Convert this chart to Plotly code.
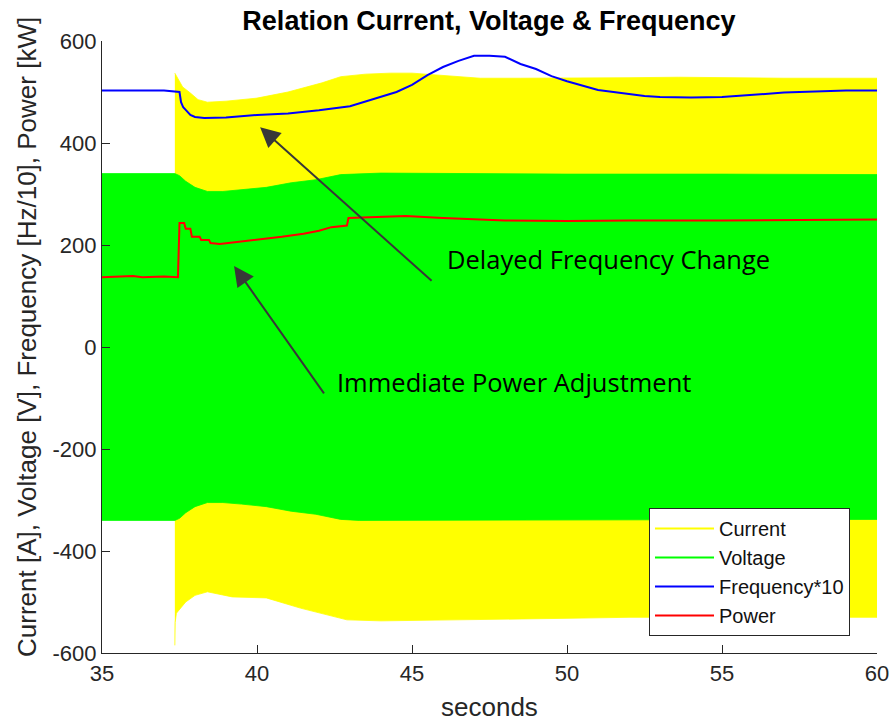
import plotly.graph_objects as go

# ---------------- data ----------------
# Current envelope (switch-on at ~37.35 s)
cur_up_t = [37.35, 37.45, 37.6, 37.85, 38.1, 38.4, 39.0, 40.0, 41.0, 42.1, 42.7, 43.5, 44.3, 45.0, 46.0, 47.2, 48.5, 50.0, 52.0, 53.6, 55.0, 57.0, 60.0]
cur_up_v = [537, 525, 510, 498, 485, 480, 482, 488, 500, 518, 530, 535, 537, 537, 533, 527, 527, 527, 528, 529, 528, 527, 527]
cur_lo_t = [37.35, 37.36, 37.4, 37.7, 38.0, 38.2, 38.4, 39.2, 40.3, 41.4, 42.5, 42.9, 44.0, 47.0, 50.0, 52.0, 55.0, 57.0, 60.0]
cur_lo_v = [-585, -540, -522, -500, -487, -483, -480, -490, -492, -512, -529, -535, -537, -535, -532, -530, -530, -530, -530]

# Voltage envelope (symmetric amplitude)
volt_t = [35.0, 37.35, 37.5, 37.7, 38.0, 38.4, 38.9, 39.5, 40.3, 41.1, 41.9, 42.7, 43.3, 44.0, 47.0, 50.0, 55.0, 60.0]
volt_v = [340, 340, 336, 325, 313, 305, 305, 308, 313, 322, 328, 338, 340, 341, 340, 339, 339, 338]

# Frequency*10
freq_t = [35.0, 36.2, 36.5, 37.0, 37.4, 37.5, 37.55, 37.62, 37.7, 37.85, 38.0, 38.3, 39.0, 40.0, 41.0, 42.0, 43.0, 44.0, 44.5, 45.0, 45.5, 46.0, 46.5,
          47.0, 47.5, 48.0, 48.5, 49.0, 49.5, 50.0, 50.5, 51.0, 51.5, 52.0, 52.5, 53.0, 54.0, 55.0, 56.0, 57.0, 58.0, 59.0, 60.0]
freq_v = [503, 504, 503, 503, 501, 500, 480, 470, 465, 455, 451, 449, 450, 455, 458, 464, 472, 490, 500, 514, 533, 549, 561,
          571, 571, 569, 555, 545, 531, 521, 512, 504, 500, 496, 492, 490, 489, 490, 494, 499, 501, 503, 503]

# Power
pow_t = [35.0, 36.0, 36.3, 37.0, 37.45, 37.5, 37.65, 37.7, 37.85, 37.9, 38.15, 38.2, 38.45, 38.5, 38.8, 40.0, 40.8, 41.5, 42.0, 42.4, 42.9, 42.95, 43.5, 44.0, 44.8,
         46.0, 47.0, 48.0, 50.0, 52.0, 55.0, 57.0, 60.0]
pow_v = [137, 139, 137, 138, 137, 243, 243, 232, 232, 216, 216, 210, 210, 204, 202, 210, 216, 222, 228, 235, 238, 253, 254, 255, 257,
         253, 250, 248, 247, 248, 248, 249, 250]

x_ticks = [35, 40, 45, 50, 55, 60]
y_ticks = [-600, -400, -200, 0, 200, 400, 600]
y_tick_text = ["-600", "-400", "-200", "0", "200", "400", "600"]

AX = "#262626"
NARROW = "Liberation Sans Narrow, Arial Narrow, Liberation Sans"
fig = go.Figure()

# Current band (polygon: upper forward, lower reversed)
fig.add_trace(go.Scatter(
    x=cur_up_t + cur_lo_t[::-1], y=cur_up_v + cur_lo_v[::-1],
    fill="toself", fillcolor="#FFFF00", mode="lines",
    line=dict(width=0.8, color="#FFFF00"), showlegend=False, hoverinfo="skip"))
# Voltage band
fig.add_trace(go.Scatter(
    x=volt_t + volt_t[::-1], y=volt_v + [-v for v in volt_v[::-1]],
    fill="toself", fillcolor="#00FF00", mode="lines",
    line=dict(width=0.8, color="#00FF00"), showlegend=False, hoverinfo="skip"))
fig.add_trace(go.Scatter(x=freq_t, y=freq_v, mode="lines", line=dict(color="#0000FF", width=2),
                         showlegend=False))
fig.add_trace(go.Scatter(x=pow_t, y=pow_v, mode="lines", line=dict(color="#FF0000", width=2),
                         showlegend=False))

# legend proxies
for name, col in [("Current", "#FFFF00"), ("Voltage", "#00FF00"), ("Frequency*10", "#0000FF"), ("Power", "#FF0000")]:
    fig.add_trace(go.Scatter(x=[None], y=[None], mode="lines", name=name, line=dict(color=col, width=2)))

fig.update_layout(
    width=893, height=724,
    margin=dict(l=102, r=16, t=41, b=71, autoexpand=False),
    paper_bgcolor="white", plot_bgcolor="white",
    font=dict(family=NARROW, color=AX, size=22),
    title=dict(text="<b>Relation Current, Voltage &amp; Frequency</b>", x=0.5475, xanchor="center",
               y=0.972, yanchor="middle", font=dict(family=NARROW, size=27, color="black")),
    xaxis=dict(range=[35, 60], tickvals=x_ticks, ticks="inside", ticklen=8, tickcolor=AX,
               showline=True, linecolor=AX, linewidth=1.2, showgrid=False, zeroline=False,
               tickfont=dict(size=22), automargin=False),
    yaxis=dict(range=[-600, 600], tickvals=y_ticks, ticktext=y_tick_text, ticks="inside", ticklen=8, tickcolor=AX,
               showline=True, linecolor=AX, linewidth=1.2, showgrid=False, zeroline=False,
               tickfont=dict(size=22), automargin=False),
    legend=dict(x=(649 - 102) / 775, xanchor="left", y=0.0278, yanchor="bottom", bgcolor="white",
                bordercolor="#262626", borderwidth=1, font=dict(family=NARROW, size=20, color="#111"),
                tracegroupgap=0, itemwidth=59),
    showlegend=True,
)

# axis labels
fig.add_annotation(text="Current [A], Voltage [V], Frequency [Hz/10], Power [kW]", xref="paper", yref="paper",
                   x=-0.0968, y=(653 - 337) / 612, textangle=-90, showarrow=False, xanchor="center", yanchor="middle",
                   font=dict(family="Liberation Sans", size=26, color=AX))
fig.add_annotation(text="seconds", xref="paper", yref="paper", x=0.5, y=(653 - 707) / 612,
                   showarrow=False, xanchor="center", yanchor="middle", font=dict(family=NARROW, size=26, color=AX))

# arrows
fig.add_annotation(x=40.10, y=431, xref="x", yref="y", ax=173, ay=155, text="", showarrow=True,
                   arrowhead=2, arrowsize=2, arrowwidth=2, arrowcolor="#383838")
fig.add_annotation(x=39.26, y=159, xref="x", yref="y", ax=91, ay=129, text="", showarrow=True,
                   arrowhead=2, arrowsize=2, arrowwidth=2, arrowcolor="#383838")
# labels
fig.add_annotation(x=(445 - 102) / 775, y=(653 - 259) / 612, xref="paper", yref="paper", text="Delayed Frequency Change",
                   showarrow=False, xanchor="left", yanchor="middle", font=dict(family="Open Sans", size=25.5, color="black"))
fig.add_annotation(x=(335 - 102) / 775, y=(653 - 382) / 612, xref="paper", yref="paper", text="Immediate Power Adjustment",
                   showarrow=False, xanchor="left", yanchor="middle", font=dict(family="Open Sans", size=25.5, color="black"))

fig.write_html("out.html")
